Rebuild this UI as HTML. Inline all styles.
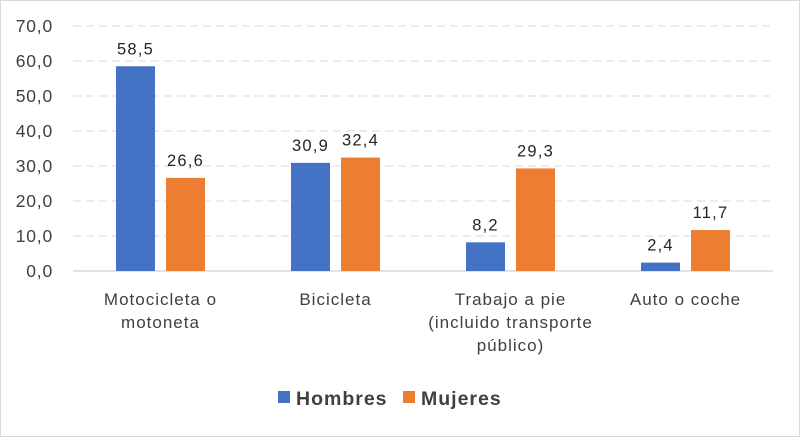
<!DOCTYPE html>
<html><head><meta charset="utf-8"><style>
body{margin:0;background:#fff;}
svg{display:block;font-family:"Liberation Sans",sans-serif;}
</style></head><body>
<svg id="c" width="800" height="437">
<rect x="0.5" y="0.5" width="799" height="436" fill="#fff" stroke="#d9d9d9"/>
<g id="g"></g>
</svg>
<script>
const categories=[["Motocicleta o","motoneta"],["Bicicleta"],["Trabajo a pie","(incluido transporte","público)"],["Auto o coche"]];
const hombres=[58.5,30.9,8.2,2.4];
const mujeres=[26.6,32.4,29.3,11.7];
const ticks=[0,10,20,30,40,50,60,70];
const seriesNames=["Hombres","Mujeres"];
const colors=["#4472c4","#ed7d31"];
const X0=73,X1=773,Y0=271,Y1=26,MAX=70;
const y=v=>Y0-(v/MAX)*(Y0-Y1);
const band=(X1-X0)/categories.length;
const cx=i=>X0+band*(i+0.5);
const g=document.getElementById('g');
const NS="http://www.w3.org/2000/svg";
function mk(t,a,txt){const e=document.createElementNS(NS,t);for(const k in a)e.setAttribute(k,a[k]);if(txt!==undefined)e.textContent=txt;g.appendChild(e);return e;}
const fmt=v=>v.toFixed(1).replace('.',',');
ticks.forEach(t=>{
  if(t>0){const l=mk('line',{x1:X0,x2:X1,y1:y(t),y2:y(t),stroke:'#d9d9d9','stroke-dasharray':'8,5'});
  
  }
  const tx=mk('text',{x:53,y:y(t)+6,'text-anchor':'end','font-size':'17.5','letter-spacing':'0.8',fill:'#404040'},fmt(t));
  
  
});
const ax=mk('line',{x1:X0,x2:X1,y1:Y0,y2:Y0,stroke:'#d9d9d9','stroke-width':1.5});


const bw=39,gap=11;
[hombres,mujeres].forEach((s,si)=>{
  s.forEach((v,i)=>{
    const x=si===0?cx(i)-gap/2-bw:cx(i)+gap/2;
    const r=mk('rect',{x:x,y:y(v),width:bw,height:Y0-y(v),fill:colors[si]});
    
    
    const t=mk('text',{x:x+bw/2,y:y(v)-12,'text-anchor':'middle','font-size':'16.5','letter-spacing':'1.2',fill:'#262626'},fmt(v));
    
    
  });
});
categories.forEach((c,i)=>{
  c.forEach((line,j)=>{
    const t=mk('text',{x:cx(i),y:305+j*23,'text-anchor':'middle','font-size':'17','letter-spacing':'1',fill:'#404040'},line);
    
    
  });
});
const lx=[278,403];
seriesNames.forEach((n,i)=>{
  const r=mk('rect',{x:lx[i],y:391,width:12,height:12,fill:colors[i]});
  
  
  const t=mk('text',{x:lx[i]+18,y:405,'font-size':'19.5','font-weight':'bold','letter-spacing':'1',fill:'#404040'},n);
  
  
});
</script>
</body></html>
